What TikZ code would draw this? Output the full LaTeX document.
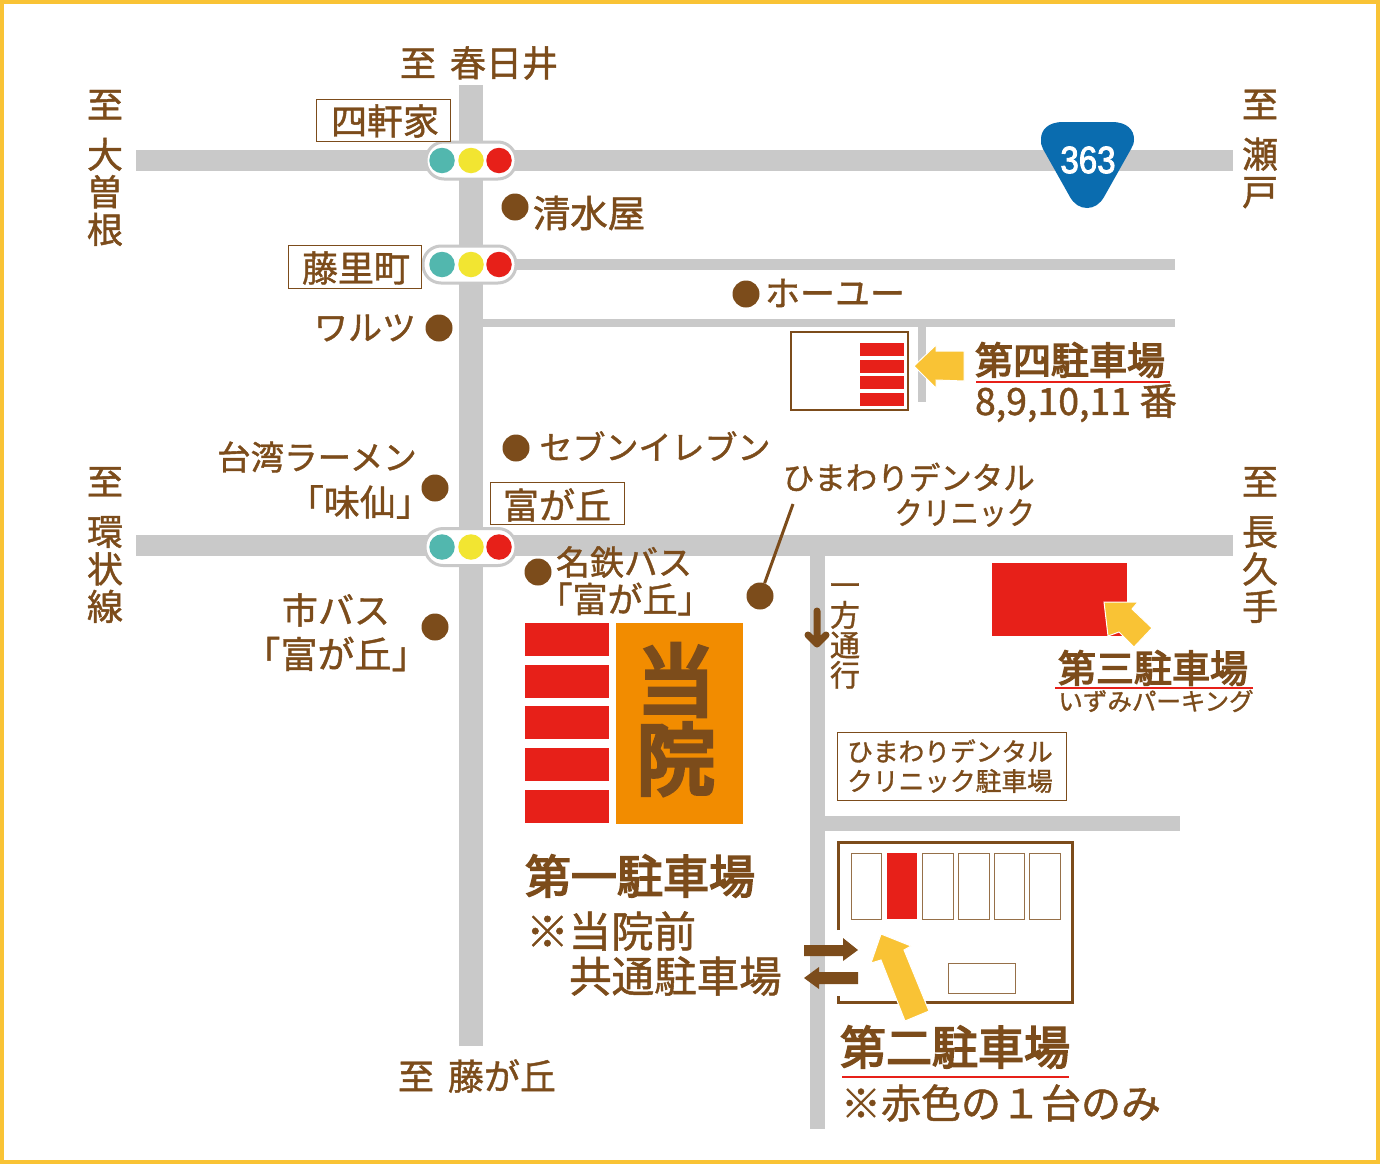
\documentclass[tikz,border=0pt]{standalone}
\usepackage{fontspec}
\setmainfont{Noto Sans CJK JP}[FakeBold=1.2]
\newfontfamily\heavyfont{Noto Sans CJK JP}[FakeBold=3.5]
\newfontfamily\clinicfont{Noto Sans CJK JP}[FakeBold=6]
\newfontfamily\shieldfont{Liberation Sans}[FakeBold=2.5]
\usepackage{tikz}
\usetikzlibrary{positioning,arrows.meta}
\definecolor{roadgray}{HTML}{C9C9C9}
\definecolor{mapbrown}{HTML}{7C4C1B}
\definecolor{lotred}{HTML}{E72019}
\definecolor{signyellow}{HTML}{F9C335}
\definecolor{signteal}{HTML}{52B7AE}
\definecolor{lampyellow}{HTML}{F2E531}
\definecolor{shieldblue}{HTML}{0A6CAF}
\definecolor{housecolor}{HTML}{F28C00}
\newcommand{\fsize}[1]{\fontsize{#1}{#1}\selectfont}

\begin{document}
\begin{tikzpicture}[
  x=1pt, y=-1pt,
  road/.style={fill=roadgray, draw=none},
  maptext/.style={text=mapbrown, inner sep=0pt, align=center, font=\fsize{34}},
  sidetext/.style={text=mapbrown, inner sep=0pt, align=center, font=\fontsize{36}{37.5}\selectfont},
  boxlabel/.style={draw=mapbrown, line width=1pt, fill=white, inner sep=0pt, anchor=center},
  strong/.style={text=mapbrown, inner sep=0pt, font=\fsize{38}\heavyfont},
  place/.style={circle, fill=mapbrown, minimum size=27pt, inner sep=0pt},
  lamp/.style={circle, minimum size=25.5pt, inner sep=0pt},
  signal/.style={draw=roadgray, line width=3pt, fill=white, rounded corners=18pt},
  lot/.style={fill=lotred, draw=none},
  slot/.style={draw=mapbrown!80, line width=1pt, fill=white},
  pointer/.style={fill=signyellow, draw=white, line width=1pt},
  flow/.style={fill=mapbrown, draw=none},
  redline/.style={draw=lotred, line width=1.5pt}
]
\useasboundingbox (0,0) rectangle (1380,1164);
\fill[white] (0,0) rectangle (1380,1164);
\draw[signyellow, line width=4pt] (2,2) rectangle (1378,1162);

% roads
\fill[road] (459,85) rectangle (483,1046);
\fill[road] (136,150) rectangle (1233,171);
\fill[road] (483,259) rectangle (1175,270);
\fill[road] (483,319) rectangle (1175,327);
\fill[road] (136,535) rectangle (1233,556);
\fill[road] (810,556) rectangle (825,1129);
\fill[road] (825,816) rectangle (1180,831);
\fill[road] (918,327) rectangle (926,402);

% signals
\foreach \name/\xa/\ya in {a/426/160.5, b/423/264.5, c/425/547} {
  \draw[signal] (\xa,\ya-18.5) rectangle (516,\ya+18.5);
  \node[lamp, fill=signteal] (lamp\name1) at (442,\ya) {};
  \node[lamp, fill=lampyellow] (lamp\name2) at (471,\ya) {};
  \node[lamp, fill=lotred] (lamp\name3) at (499,\ya) {};
}

% route shield
\fill[shieldblue] (1063,122) -- (1112,122) .. controls (1127,122) and (1134,130) .. (1134,139)
  .. controls (1134,143) and (1133,146) .. (1131,149) -- (1104,197)
  .. controls (1100,204) and (1094,208) .. (1087,208)
  .. controls (1080,208) and (1074,204) .. (1070,197) -- (1043,149)
  .. controls (1041,146) and (1041,143) .. (1041,139)
  .. controls (1041,130) and (1048,122) .. (1063,122) -- cycle;
\node[inner sep=0pt, text=white, font=\fsize{38}\shieldfont, xscale=0.87] (route) at (1088,160) {363};

% direction labels
\node[sidetext] (kasugai) at (479,63) {至\hspace{14pt}春日井};
\node[sidetext] (fujigaoka) at (477,1076) {至\hspace{14pt}藤が丘};
\node[sidetext] (ozone) at (105,168) {至\\[12.5pt]大\\曽\\根};
\node[sidetext] (seto) at (1260,149) {至\\[12.5pt]瀬\\戸};
\node[sidetext] (kanjo) at (105,545) {至\\[12.5pt]環\\状\\線};
\node[sidetext] (nagakute) at (1260,545) {至\\[12.5pt]長\\久\\手};

% intersection names
\node[boxlabel, minimum width=134pt, minimum height=42pt] (yonken) at (383,120) {};
\node[sidetext] at (385,121) {四軒家};
\node[boxlabel, minimum width=133pt, minimum height=43pt] (fujisato) at (354.5,266.5) {};
\node[sidetext] at (356,268) {藤里町};
\node[boxlabel, minimum width=134pt, minimum height=42pt] (tomiga) at (557,503) {};
\node[sidetext] at (557,505) {富が丘};

% landmarks
\node[place] (shimizu) at (515,207) {};
\node[maptext, font=\fsize{37.5}] (shimizutxt) at (589,213) {清水屋};
\node[place] (houyu) at (746,294) {};
\node[maptext, font=\fsize{35}] (houyutxt) at (835,293) {ホーユー};
\node[place] (warutsu) at (439,328) {};
\node[maptext] (warutsutxt) at (365,328) {ワルツ};
\node[place] (seven) at (516,448) {};
\node[maptext, font=\fsize{33}] (seventxt) at (655,446) {セブンイレブン};
\node[place] (misen) at (435,488) {};
\node[maptext, font=\fsize{33.5}, anchor=east] (taiwan) at (417,457) {台湾ラーメン};
\node[maptext, font=\fsize{36}, anchor=east] (misentxt) at (432,502) {「味仙」};
\node[place] (meitetsu) at (538,572) {};
\node[maptext] (meitetsutxt) at (624,562) {名鉄バス};
\node[maptext, font=\fsize{35}] (meitetsustop) at (625,599) {「富が丘」};
\node[place] (shibus) at (435,627) {};
\node[maptext, font=\fsize{36}] (shibustxt) at (336,610) {市バス};
\node[maptext, font=\fsize{37}] (shibustop) at (336,654) {「富が丘」};
\node[place] (dental) at (760,596) {};
\node[maptext, font=\fsize{31.5}, anchor=east] (dentaltxt) at (1035,477) {ひまわりデンタル};
\node[maptext, font=\fsize{31.5}, anchor=east, xscale=0.89] (dentaltxtb) at (1035,513) {クリニック};
\coordinate (dentalend) at (793,504);
\draw[mapbrown, line width=3pt] (dental) -- (dentalend);

% one way
\node[maptext, font=\fsize{30}] (oneway) at (845,636) {一\\方\\通\\行};
\draw[mapbrown, line width=7pt, line cap=round, line join=round] (817,611) -- (817,644) (808,635) -- (817,644) -- (826,635);

% first lot and clinic
\foreach \ya in {623,665,706,748,790} {
  \fill[lot] (525,\ya) rectangle (609,\ya+33);
}
\node[fill=housecolor, minimum width=127pt, minimum height=201pt, inner sep=0pt] (clinic) at (679.5,723.5) {};
\node[strong, font=\fsize{78}\clinicfont] (clinictop) at (676,680) {当};
\node[strong, font=\fsize{78}\clinicfont] (clinicbot) at (676,759) {院};
\node[strong, font=\fsize{46}\heavyfont] (lotone) at (640,876) {第一駐車場};
\node[maptext, font=\fsize{42.5}, anchor=west] (lotonea) at (526,931) {※当院前};
\node[maptext, font=\fsize{42.5}, anchor=west] (lotoneb) at (569,976) {共通駐車場};

% fourth lot
\draw[mapbrown, line width=2pt, fill=white] (791,332) rectangle (908,410);
\foreach \ya in {343,360,376,393} {
  \fill[lot] (860,\ya) rectangle (904,\ya+13);
}
\draw[pointer] (914,366) -- (936,345) -- (936,351) -- (964,351) -- (964,381) -- (936,380) -- (936,388) -- cycle;
\node[strong] (lotfour) at (1070,360) {第四駐車場};
\draw[redline] (976,382) -- (1170,382);
\node[maptext, font=\fsize{37.5}] (lotfourb) at (1076,403) {8,9,10,11 番};

% third lot
\fill[lot] (992,563) rectangle (1127,636);
\draw[pointer] (1104,602) -- (1138,602) -- (1132,609) -- (1152,628) -- (1134,647) -- (1119,632) -- (1108,636) -- cycle;
\node[strong] (lotthree) at (1153,668) {第三駐車場};
\draw[redline] (1055,688) -- (1253,688);
\node[maptext, font=\fsize{24.5}] (lotthreeb) at (1156,701) {いずみパーキング};

% dental lot name
\node[boxlabel, minimum width=229pt, minimum height=68pt] (dentallot) at (951.5,766) {};
\node[maptext, font=\fsize{25.7}] (dentallota) at (950,751) {ひまわりデンタル};
\node[maptext, font=\fsize{25.7}] (dentallotb) at (950,781) {クリニック駐車場};

% second lot
\draw[mapbrown, line width=3pt] (838,930) -- (838,842) -- (1072,842) -- (1072,1002) -- (838,1002) -- (838,996);
\foreach \xa/\xb in {851/881, 922/953, 958/989, 994/1024, 1029/1060} {
  \draw[slot] (\xa,853) rectangle (\xb,919);
}
\fill[lot] (887,853) rectangle (917,919);
\draw[slot] (948,963) rectangle (1015,993);
\fill[flow] (804,945) -- (843,945) -- (843,938) -- (858,950) -- (843,961) -- (843,956) -- (804,956) -- cycle;
\fill[flow] (804,978) -- (819,967) -- (819,972) -- (858,972) -- (858,984) -- (819,984) -- (819,989) -- cycle;
\draw[pointer] (881,934) -- (911,946) -- (904,950) -- (929,1011) -- (905,1021) -- (881,960) -- (871,963) -- cycle;
\node[strong, font=\fsize{46}\heavyfont] (lottwo) at (955,1047) {第二駐車場};
\draw[redline] (842,1077) -- (1069,1077);
\node[maptext, font=\fsize{40}] (lottwob) at (1001,1103) {※赤色の１台のみ};
\end{tikzpicture}
\end{document}
